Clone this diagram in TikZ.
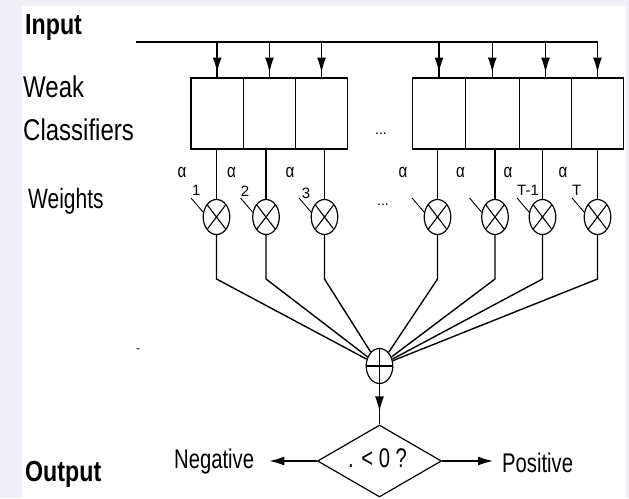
\documentclass[tikz,border=0pt]{standalone}
\usepackage{fontspec}
\setmainfont{Liberation Sans}
\newfontfamily\fa[FakeStretch=0.8]{Liberation Sans}
\newfontfamily\fb[FakeStretch=0.75]{Liberation Sans}
\usetikzlibrary{shapes.geometric,arrows.meta,calc}
\definecolor{lav}{RGB}{240,238,247}
\begin{document}
\begin{tikzpicture}[x=1pt,y=-1pt,
  lbl/.style={inner sep=0pt, anchor=base west},
  big/.style={font=\fa\fontsize{30}{30}\selectfont},
  bigb/.style={font=\fa\bfseries\fontsize{29}{29}\selectfont},
  mid/.style={font=\fb\fontsize{27}{27}\selectfont},
  wbox/.style={draw, line width=1.5pt, minimum height=71.3pt, inner sep=0pt, minimum width=#1},
  wire/.style={line width=1.4pt},
  lead/.style={line width=0.9pt},
  arr/.style={line width=1.4pt, -{Latex[length=15pt,width=9pt]}},
  mult/.style={ellipse, draw, line width=1.2pt, minimum width=26.6pt, minimum height=35pt, inner sep=0pt,
    path picture={\draw[line width=1.1pt] (path picture bounding box.north west) -- (path picture bounding box.south east)
      (path picture bounding box.north east) -- (path picture bounding box.south west);}},
  summ/.style={ellipse, draw, line width=1.2pt, minimum width=26.6pt, minimum height=35pt, inner sep=0pt,
    path picture={\draw[line width=1.1pt] (path picture bounding box.north) -- (path picture bounding box.south)
      (path picture bounding box.west) -- (path picture bounding box.east);}},
  alph/.style={inner sep=0pt, font=\fa\fontsize{19}{19}\selectfont},
  sub/.style={inner sep=0pt, anchor=west, font=\fontsize{15}{15}\selectfont}
]
\useasboundingbox (0,0) rectangle (629,498);
\fill[lav] (0,0) rectangle (629,498);
\fill[white] (22,6) rectangle (626,498);

% labels
\node[lbl,bigb] (input) at (25,34) {Input};
\node[lbl,big] (weak) at (23,97) {Weak};
\node[lbl,big] (classif) at (23,140) {Classifiers};
\node[lbl,font=\fb\fontsize{28}{28}\selectfont] (weights) at (28,208) {Weights};
\node[lbl,font=\fontsize{12}{12}\selectfont] (dash) at (136,352) {-};
\node[lbl,bigb] (output) at (25,481) {Output};

% boxes
\node[wbox=52.3pt] (b1) at (217.15,113.4) {};
\node[wbox=52.4pt] (b2) at (269.5,113.4) {};
\node[wbox=51.6pt] (b3) at (321.5,113.4) {};
\node[wbox=52.6pt] (b4) at (439,113.4) {};
\node[wbox=54pt] (b5) at (492.3,113.4) {};
\node[wbox=52.4pt] (b6) at (545.5,113.4) {};
\node[wbox=51.6pt] (b7) at (597.5,113.4) {};
\node[lbl,font=\fontsize{14}{14}\selectfont] (dots1) at (375,134) {...};

% input bus
\coordinate (bus) at (136,42);
\draw[wire] (bus) -- (bus -| b7.north);
\foreach \i in {1,...,7}{
  \draw[wire] (bus -| b\i.north) -- (b\i.north);
  \draw[arr, shorten >=4.5pt] (bus -| b\i.north) -- (b\i.north);
}

% multipliers
\node[mult] (m1) at (216.5,217) {};
\node[mult] (m2) at (266,217) {};
\node[mult] (m3) at (324.5,217) {};
\node[mult] (m4) at (437.5,217) {};
\node[mult] (m5) at (495,217) {};
\node[mult] (m6) at (542.5,217) {};
\node[mult] (m7) at (597.5,217) {};
\node[lbl,font=\fontsize{14}{14}\selectfont] (dots2) at (377,205) {...};

\foreach \i in {1,...,7}{
  \draw[wire] (m\i.north |- b\i.south) -- (m\i.north);
  \node[alph] (a\i) at ($(m\i)+(-34.5,-45)$) {α};
  \coordinate (l\i) at ($(m\i)+(-25.5,-19)$);
  \draw[lead] (l\i) -- (m\i.160);
}
\node[sub] (s1) at ($(m1)+(-24.5,-26.5)$) {1};
\node[sub] (s2) at ($(m2)+(-25.3,-26)$) {2};
\node[sub] (s3) at ($(m3)+(-22.8,-23.5)$) {3};
\node[sub] (s6) at ($(m6)+(-25.5,-26.5)$) {T-1};
\node[sub] (s7) at ($(m7)+(-25.5,-26.5)$) {T};

% summation
\node[summ] (sum) at (379.5,366) {};
\foreach \i in {1,...,7}{
  \coordinate (k\i) at (m\i |- 0,279);
  \draw[wire] (m\i.south) -- (k\i) -- (sum);
}

% decision
\node[diamond, draw, line width=1.2pt, minimum width=124pt, minimum height=72pt, inner sep=0pt] (dec) at (379.5,461) {};
\node[lbl,mid] (test) at (348,467) {. < 0 ?};
\draw[wire] (sum) -- (dec.north);
\draw[arr, shorten >=13pt] (sum) -- (dec.north);

\node[lbl,mid] (neg) at (174,468) {Negative};
\node[lbl,mid] (pos) at (502,472) {Positive};
\draw[arr, shorten >=15pt] (dec.west) -- (dec.west -| neg.east);
\draw[arr, shorten >=9pt] (dec.east) -- (dec.east -| pos.west);
\end{tikzpicture}
\end{document}
